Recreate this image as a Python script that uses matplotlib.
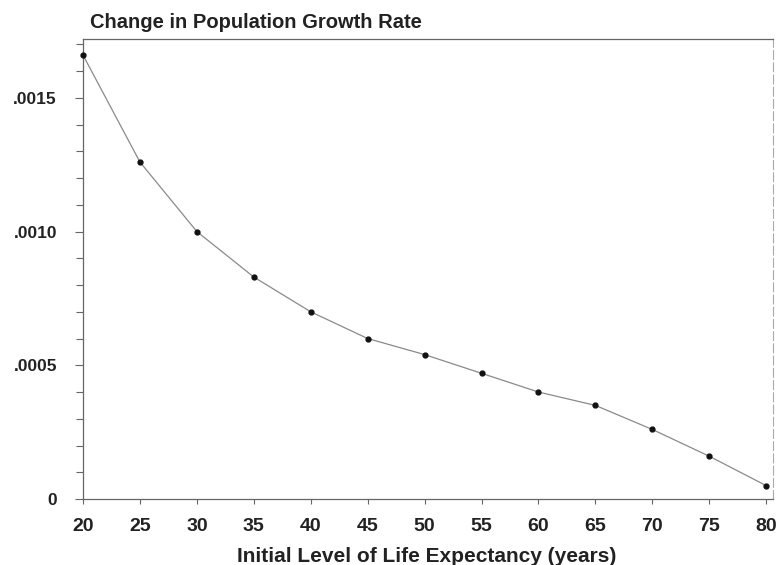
import matplotlib
matplotlib.use("Agg")
import matplotlib.pyplot as plt
from matplotlib.ticker import MultipleLocator, FixedLocator

life_expectancy = [20, 25, 30, 35, 40, 45, 50, 55, 60, 65, 70, 75, 80]
growth_change = [0.00166, 0.00126, 0.00100, 0.00083, 0.00070, 0.00060, 0.00054,
                 0.00047, 0.00040, 0.00035, 0.00026, 0.00016, 0.00005]
x_ticks = [20, 25, 30, 35, 40, 45, 50, 55, 60, 65, 70, 75, 80]
y_ticks = [0, 0.0005, 0.0010, 0.0015]
y_tick_labels = ["0", ".0005", ".0010", ".0015"]

plt.rcParams['font.family'] = ['Liberation Sans', 'DejaVu Sans']

fig = plt.figure(figsize=(7.79, 5.65), dpi=100)
ax = fig.add_axes([83/779, 1 - 499/565, (773-83)/779, (499-39)/565])

ax.plot(life_expectancy, growth_change, color='#8a8a8a', linewidth=0.9,
        marker='o', markersize=3.5, markerfacecolor='#111111',
        markeredgecolor='#111111', zorder=3, clip_on=False)

ax.set_xlim(20, 80.6)
ax.set_ylim(0, 0.00172)

ax.xaxis.set_major_locator(FixedLocator(x_ticks))
ax.set_xticklabels([str(v) for v in x_ticks])
ax.yaxis.set_major_locator(FixedLocator(y_ticks))
ax.set_yticklabels(y_tick_labels)
ax.yaxis.set_minor_locator(MultipleLocator(0.0001))

ax.tick_params(axis='x', which='major', direction='out', length=3.6, width=0.8,
               color='#666666', labelsize=14, pad=10)
ax.tick_params(axis='y', which='major', direction='out', length=5.8, width=0.8,
               color='#666666', labelsize=12.5, pad=13)
ax.tick_params(axis='y', which='minor', direction='out', length=5, width=0.8,
               color='#666666')
for lab in ax.get_xticklabels() + ax.get_yticklabels():
    lab.set_fontweight('bold')
    lab.set_color('#222222')

for side in ['left', 'bottom', 'top']:
    ax.spines[side].set_color('#666666')
    ax.spines[side].set_linewidth(0.9)
ax.spines['right'].set_color('#aaaaaa')
ax.spines['right'].set_linewidth(0.8)
ax.spines['right'].set_linestyle((0, (8, 3)))

fig.text(427/779, 1 - 556/565, "Initial Level of Life Expectancy (years)",
         fontsize=15, fontweight='bold', color='#222222', ha='center', va='center')
fig.text(90/779, 1 - 22/565, "Change in Population Growth Rate", fontsize=14.5,
         fontweight='bold', color='#222222', ha='left', va='center')

fig.savefig("out.png", dpi=100)
